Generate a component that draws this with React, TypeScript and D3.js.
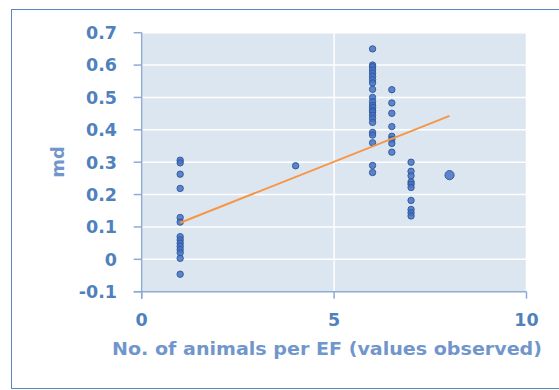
import React from "react";
import * as d3 from "d3";

const xTicks = [0, 5, 10];
const yTicks = [-0.1, 0, 0.1, 0.2, 0.3, 0.4, 0.5, 0.6, 0.7];
const xTitle = "No. of animals per EF (values observed)";
const yTitle = "md";

const xs1 = [1, 1, 1, 1, 1, 1, 1, 1, 1, 1, 1, 1, 1, 1];
const ys1 = [0.306, 0.298, 0.263, 0.219, 0.129, 0.115, 0.07, 0.06, 0.05, 0.04, 0.03, 0.02, 0.003, -0.046];
const ys4 = [0.289];
const ys6 = [0.65, 0.6, 0.595, 0.585, 0.575, 0.565, 0.555, 0.545, 0.525, 0.5, 0.487, 0.476, 0.469, 0.46, 0.455, 0.445, 0.435, 0.423, 0.392, 0.384, 0.36, 0.29, 0.268];
const ys65 = [0.524, 0.483, 0.451, 0.41, 0.38, 0.37, 0.358, 0.331];
const ys7 = [0.3, 0.272, 0.258, 0.239, 0.232, 0.222, 0.182, 0.154, 0.144, 0.134];
const ys8 = [0.26];
const trendX = [1, 8];
const trendY = [0.113, 0.443];

const points: { x: number; y: number; big?: boolean }[] = [
  ...ys1.map((y, i) => ({ x: xs1[i], y })),
  ...ys4.map((y) => ({ x: 4, y })),
  ...ys6.map((y) => ({ x: 6, y })),
  ...ys65.map((y) => ({ x: 6.5, y })),
  ...ys7.map((y) => ({ x: 7, y })),
  ...ys8.map((y) => ({ x: 8, y, big: true })),
];

export default function App() {
  const W = 559, H = 390;
  const x = d3.scaleLinear().domain([0, 10]).range([141.7, 526.5]);
  const y = d3.scaleLinear().domain([-0.1, 0.7]).range([291.7, 32.7]);
  const line = d3.line<number>().x((_, i) => x(trendX[i])).y((d) => y(d));
  const font = "'DejaVu Sans', Verdana, sans-serif";
  const tickColor = "#4f81bd";
  const titleColor = "#7196cb";
  const axisColor = "#8eabd4";
  return (
    <svg width={W} height={H} style={{ position: "absolute", left: 0, top: 0 }}>
      <rect x={11.5} y={9.5} width={560} height={379} fill="#fff" stroke="#5a86c0" strokeWidth={1} />
      <rect x={x(0)} y={y(0.7)} width={x(10) - x(0)} height={y(-0.1) - y(0.7)} fill="#dce6f1" />
      {yTicks.map((t) => (
        <line key={"gy" + t} x1={x(0)} x2={x(10)} y1={y(t)} y2={y(t)} stroke="#fff" strokeWidth={1.5} />
      ))}
      {xTicks.map((t) => (
        <line key={"gx" + t} x1={x(t)} x2={x(t)} y1={y(0.7)} y2={y(-0.1)} stroke="#fff" strokeWidth={1.5} />
      ))}
      <line x1={x(0)} x2={x(0)} y1={y(0.7)} y2={y(-0.1) + 7} stroke={axisColor} strokeWidth={1.5} />
      <line x1={x(0) - 8} x2={x(10)} y1={y(-0.1)} y2={y(-0.1)} stroke={axisColor} strokeWidth={1.5} />
      {yTicks.map((t) => (
        <g key={"ty" + t}>
          <line x1={x(0) - 8} x2={x(0)} y1={y(t)} y2={y(t)} stroke={axisColor} strokeWidth={1.5} />
          <text x={117} y={y(t)} dy="0.36em" textAnchor="end" fontFamily={font} fontWeight="bold" fontSize={17.5} fill={tickColor}>
            {String(Math.round(t * 10) / 10)}
          </text>
        </g>
      ))}
      {xTicks.map((t) => (
        <g key={"tx" + t}>
          <line x1={x(t)} x2={x(t)} y1={y(-0.1)} y2={y(-0.1) + 7} stroke={axisColor} strokeWidth={1.5} />
          <text x={x(t)} y={326} textAnchor="middle" fontFamily={font} fontWeight="bold" fontSize={17.5} fill={tickColor}>
            {t}
          </text>
        </g>
      ))}
      {points.map((p, i) => (
        <circle key={i} cx={x(p.x)} cy={y(p.y)} r={p.big ? 4.6 : 3.2} fill="#4472c4" fillOpacity={0.85} stroke="#2f5597" strokeWidth={0.9} />
      ))}
      <path d={line(trendY) || ""} fill="none" stroke="#f79646" strokeWidth={2} />
      <text x={327} y={355} textAnchor="middle" fontFamily={font} fontWeight="bold" fontSize={18} fill={titleColor} textLength={430} lengthAdjust="spacingAndGlyphs">
        {xTitle}
      </text>
      <text transform={`translate(64,162) rotate(-90)`} textAnchor="middle" fontFamily={font} fontWeight="bold" fontSize={18} fill={titleColor}>
        {yTitle}
      </text>
    </svg>
  );
}
